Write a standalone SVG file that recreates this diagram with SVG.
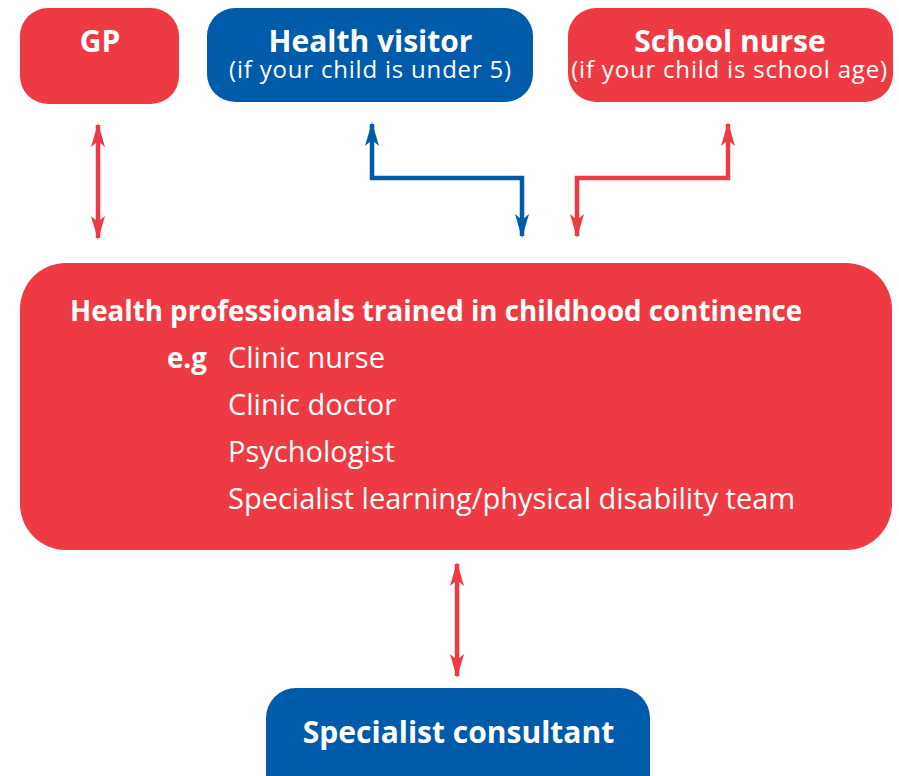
<svg xmlns="http://www.w3.org/2000/svg" width="899" height="776" viewBox="0 0 899 776">
<defs>
<style>
.red{fill:#EE3A43}
.blue{fill:#005BAA}
text{fill:#fff;font-family:"Open Sans","Noto Sans",sans-serif}
.b{font-weight:bold}
.t{font-size:30px;font-weight:bold;text-anchor:middle}
.s{font-size:24px;letter-spacing:0.8px;text-anchor:middle}
.m{font-size:29px}
.h{font-size:27.7px;font-weight:bold}
.cr{fill:none;stroke:#EE3A43;stroke-width:4.5}
.cb{fill:none;stroke:#005BAA;stroke-width:4.5}
</style>
<marker id="ar" viewBox="0 0 24 14" refX="22" refY="7" markerWidth="24" markerHeight="14" markerUnits="userSpaceOnUse" orient="auto-start-reverse"><path d="M0,0 L24,7 L0,14 L6,7 Z" fill="#EE3A43"/></marker>
<marker id="ab" viewBox="0 0 24 14" refX="22" refY="7" markerWidth="24" markerHeight="14" markerUnits="userSpaceOnUse" orient="auto-start-reverse"><path d="M0,0 L24,7 L0,14 L6,7 Z" fill="#005BAA"/></marker>
</defs>
<rect width="899" height="776" fill="#fff"/>
<g id="connectors">
<path class="cr" d="M98,125 V238" marker-start="url(#ar)" marker-end="url(#ar)"/>
<path class="cb" d="M372,124 V178 H522 V236" marker-start="url(#ab)" marker-end="url(#ab)"/>
<path class="cr" d="M577,236 V178 H728 V124" marker-start="url(#ar)" marker-end="url(#ar)"/>
<path class="cr" d="M457,564 V676" marker-start="url(#ar)" marker-end="url(#ar)"/>
</g>
<g id="gp">
<rect class="red" x="20" y="8" width="159" height="96" rx="28"/>
<text class="t" x="100" y="52">GP</text>
</g>
<g id="health-visitor">
<rect class="blue" x="207" y="8" width="326" height="94" rx="28"/>
<text class="t" x="370.5" y="52">Health visitor</text>
<text class="s" x="370.5" y="78">(if your child is under 5)</text>
</g>
<g id="school-nurse">
<rect class="red" x="568" y="8" width="325" height="94" rx="28"/>
<text class="t" x="730" y="52">School nurse</text>
<text class="s" x="729.5" y="78">(if your child is school age)</text>
</g>
<g id="health-professionals">
<rect class="red" x="20" y="263" width="872" height="287" rx="46"/>
<text class="h" x="70" y="321">Health professionals trained in childhood continence</text>
<text class="h" x="167" y="368">e.g</text>
<text class="m" x="228" y="368">Clinic nurse</text>
<text class="m" x="228" y="415">Clinic doctor</text>
<text class="m" x="228" y="462">Psychologist</text>
<text class="m" x="228" y="509">Specialist learning/physical disability team</text>
</g>
<g id="specialist-consultant">
<rect class="blue" x="266" y="688" width="384" height="120" rx="30"/>
<text class="t" x="458.5" y="743">Specialist consultant</text>
</g>
</svg>
